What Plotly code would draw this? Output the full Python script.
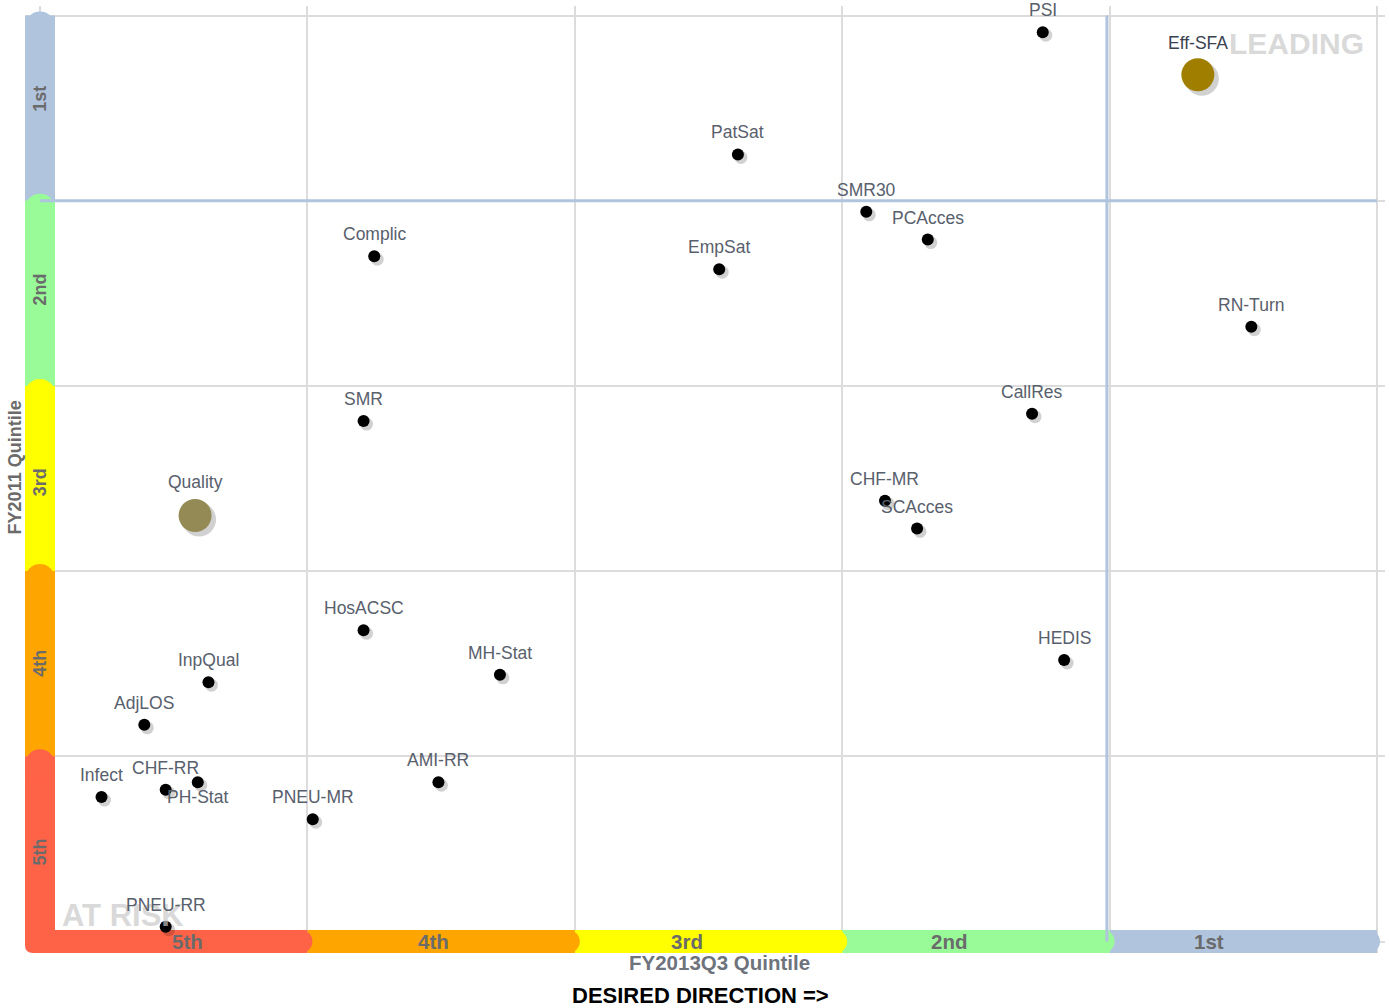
import plotly.graph_objects as go

# ---------------- data ----------------
names = ["PSI", "Eff-SFA", "PatSat", "SMR30", "PCAcces", "Complic", "EmpSat", "RN-Turn",
         "CallRes", "SMR", "Quality", "CHF-MR", "SCAcces", "HosACSC", "HEDIS", "MH-Stat",
         "InpQual", "AdjLOS", "AMI-RR", "CHF-RR", "PH-Stat", "Infect", "PNEU-MR", "PNEU-RR"]
fy2013q3 = [3.75, 4.33, 2.61, 3.09, 3.32, 1.25, 2.54, 4.53,
            3.71, 1.21, 0.58, 3.16, 3.28, 1.21, 3.83, 1.72,
            0.63, 0.39, 1.49, 0.47, 0.59, 0.23, 1.02, 0.47]
fy2011 = [4.91, 4.68, 4.25, 3.94, 3.79, 3.70, 3.63, 3.32,
          2.85, 2.81, 2.30, 2.38, 2.23, 1.68, 1.52, 1.44,
          1.40, 1.17, 0.86, 0.82, 0.86, 0.78, 0.66, 0.08]
composite = ["Eff-SFA", "Quality"]

quintile_labels = ["5th", "4th", "3rd", "2nd", "1st"]
quintile_colors = ["#FF6347", "#FFA500", "#FFFF00", "#98FB98", "#B0C4DE"]
x_label_pos = [0.55, 1.47, 2.42, 3.40, 4.37]
y_label_pos = [0.48, 1.50, 2.48, 3.52, 4.55]

# ---------------- styling ----------------
FONT = "Liberation Sans, Arial, sans-serif"
PXX = 267.4   # px per x unit
PXY = 185.2   # px per y unit

fig = go.Figure()

small_x = [x for n, x in zip(names, fy2013q3) if n not in composite]
small_y = [y for n, y in zip(names, fy2011) if n not in composite]

# shadows
fig.add_trace(go.Scatter(x=[v + 3 / PXX for v in small_x], y=[v - 3 / PXY for v in small_y],
                         mode="markers", marker=dict(size=13, color="rgba(0,0,0,0.18)", line_width=0),
                         hoverinfo="skip", showlegend=False))
comp_x = [x for n, x in zip(names, fy2013q3) if n in composite]
comp_y = [y for n, y in zip(names, fy2011) if n in composite]
fig.add_trace(go.Scatter(x=[v + 4 / PXX for v in comp_x], y=[v - 4 / PXY for v in comp_y],
                         mode="markers", marker=dict(size=34, color="rgba(0,0,0,0.18)", line_width=0),
                         hoverinfo="skip", showlegend=False))

fig.add_trace(go.Scatter(x=small_x, y=small_y, mode="markers",
                         marker=dict(size=12, color="black", line_width=0),
                         text=[n for n in names if n not in composite], showlegend=False))
comp_colors = {"Eff-SFA": "#A07F00", "Quality": "#948A55"}
fig.add_trace(go.Scatter(x=comp_x, y=comp_y, mode="markers",
                         marker=dict(size=33, color=[comp_colors[n] for n in composite], line_width=0),
                         text=composite, showlegend=False))

label_shift = {"PH-Stat": -15, "Eff-SFA": 32, "Quality": 34}
annotations = [
    dict(x=0.31, y=0.14, xref="x", yref="y", text="<b>AT RISK</b>", showarrow=False,
         font=dict(family=FONT, size=31, color="rgba(200,200,200,0.7)")),
    dict(x=4.70, y=4.85, xref="x", yref="y", text="<b>LEADING</b>", showarrow=False,
         font=dict(family=FONT, size=30, color="rgba(200,200,200,0.7)")),
]
for n, x, y in zip(names, fy2013q3, fy2011):
    annotations.append(dict(x=x, y=y, xref="x", yref="y", text=n, showarrow=False,
                            yshift=label_shift.get(n, 22),
                            font=dict(family=FONT, size=17.5,
                                      color="#3a4250" if n == "Eff-SFA" else "#58606c")))

# ---------------- shapes: colored axis bars ----------------
shapes = []
# vertical bar (left), drawn top first so lower segments overlap
for i in reversed(range(5)):
    c = quintile_colors[i]
    lo, hi = i, i + 1
    shapes.append(dict(type="rect", xref="x", yref="y", xsizemode="pixel", xanchor=0,
                       x0=-15, x1=15, y0=lo, y1=hi, fillcolor=c, line_width=0, layer="between"))
    top = (-26, 4) if i == 4 else (-23, 7)
    shapes.append(dict(type="circle", xref="x", yref="y", xsizemode="pixel", xanchor=0,
                       x0=-15, x1=15, ysizemode="pixel", yanchor=hi, y0=top[0], y1=top[1],
                       fillcolor=c, line_width=0, layer="between"))
# horizontal bar (bottom)
for i in reversed(range(5)):
    c = quintile_colors[i]
    lo, hi = i, i + 1
    shapes.append(dict(type="rect", xref="x", yref="y", ysizemode="pixel", yanchor=0,
                       y0=-11.5, y1=11.5, x0=lo, x1=hi, fillcolor=c, line_width=0, layer="between"))
    cap = (-20, 3) if i == 4 else (-18, 5)
    shapes.append(dict(type="circle", xref="x", yref="y", ysizemode="pixel", yanchor=0,
                       y0=-11.5, y1=11.5, xsizemode="pixel", xanchor=hi, x0=cap[0], x1=cap[1],
                       fillcolor=c, line_width=0, layer="between"))
# rounded corner at origin
shapes.append(dict(type="path", xref="x", yref="y", xsizemode="pixel", ysizemode="pixel",
                   xanchor=0, yanchor=0,
                   path="M -15,11.5 L 15,11.5 L 15,-11.5 L -7,-11.5 Q -15,-11.5 -15,-3.5 Z",
                   fillcolor=quintile_colors[0], line_width=0, layer="between"))
# quadrant divider lines
shapes.append(dict(type="line", xref="x", yref="y", x0=3.99, x1=3.99, y0=0, y1=5,
                   line=dict(color="#B0C4DE", width=3), layer="between"))
shapes.append(dict(type="line", xref="x", yref="y", x0=0, x1=5, y0=4, y1=4,
                   line=dict(color="#B0C4DE", width=3), layer="between"))

# quintile labels on bars
for lab, xp in zip(quintile_labels, x_label_pos):
    annotations.append(dict(x=xp, y=0, xref="x", yref="y", text=f"<b>{lab}</b>", showarrow=False,
                            font=dict(family=FONT, size=20.5, color="#6b6b6b")))
for lab, yp in zip(quintile_labels, y_label_pos):
    annotations.append(dict(x=0, y=yp, xref="x", yref="y", text=f"<b>{lab}</b>", showarrow=False,
                            textangle=-90, font=dict(family=FONT, size=18, color="#6b6b6b")))

# axis titles
annotations += [
    dict(x=0, y=2.56, xref="x", yref="y", xshift=-25, text="<b>FY2011 Quintile</b>", showarrow=False,
         textangle=-90, font=dict(family=FONT, size=18, color="#6b6b6b")),
    dict(x=2.54, y=0, xref="x", yref="y", yshift=-21, text="<b>FY2013Q3 Quintile</b>", showarrow=False,
         font=dict(family=FONT, size=20.5, color="#6e737c")),
    dict(x=2.47, y=0, xref="x", yref="y", yshift=-54, text="<b>DESIRED DIRECTION =></b>", showarrow=False,
         font=dict(family=FONT, size=22, color="black")),
]

fig.update_layout(
    width=1389, height=1008,
    margin=dict(l=25, r=4, t=6, b=55),
    paper_bgcolor="white", plot_bgcolor="white",
    shapes=shapes, annotations=annotations,
    xaxis=dict(range=[-0.0561, 5.0299], tickvals=[0, 1, 2, 3, 4, 5], showticklabels=False,
               showgrid=True, gridcolor="#dcdcdc", gridwidth=1.5, zeroline=False, showline=False),
    yaxis=dict(range=[-0.0621, 5.0513], tickvals=[0, 1, 2, 3, 4, 5], showticklabels=False,
               showgrid=True, gridcolor="#dcdcdc", gridwidth=1.5, zeroline=False, showline=False),
    hovermode="closest",
)

fig.write_html("out.html")
